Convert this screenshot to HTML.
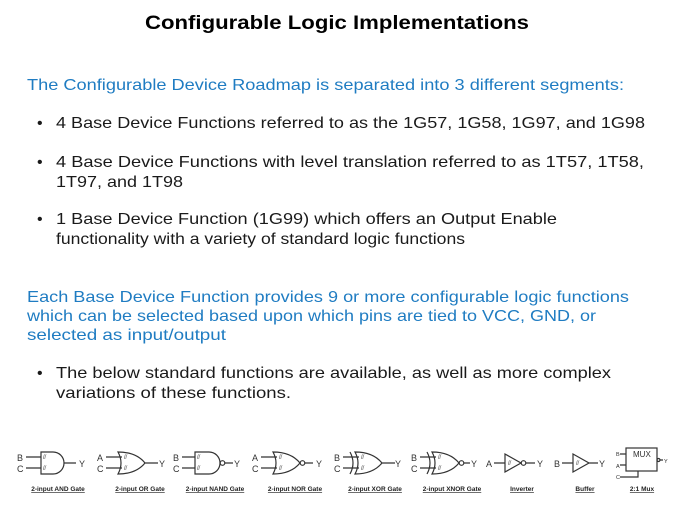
<!DOCTYPE html>
<html><head><meta charset="utf-8"><style>
html,body{margin:0;padding:0;background:#fff;}
svg{display:block;}
text{font-family:"Liberation Sans",sans-serif;}
.b{fill:#1a1a1a;font-size:16px;}
.bl{fill:#1f7cc2;font-size:16px;}
.g{stroke:#333;stroke-width:1.2;fill:none;}
.gl{font-size:9px;fill:#333;}
.cap{font-size:6.5px;fill:#222;text-decoration:underline;font-weight:bold;}
.s{font-size:6px;fill:#555;font-style:italic;}
</style></head><body>
<svg width="674" height="506" viewBox="0 0 674 506" xmlns="http://www.w3.org/2000/svg">
<text x="145" y="29" font-weight="bold" font-size="19" fill="#000" textLength="384" lengthAdjust="spacingAndGlyphs">Configurable Logic Implementations</text>
<text class="bl" x="27" y="90" textLength="597" lengthAdjust="spacingAndGlyphs">The Configurable Device Roadmap is separated into 3 different segments:</text>
<text class="b" x="37" y="128" font-size="12">•</text>
<text class="b" x="56" y="128" textLength="589" lengthAdjust="spacingAndGlyphs">4 Base Device Functions referred to as the 1G57, 1G58, 1G97, and 1G98</text>
<text class="b" x="37" y="167" font-size="12">•</text>
<text class="b" x="56" y="167" textLength="588" lengthAdjust="spacingAndGlyphs">4 Base Device Functions with level translation referred to as 1T57, 1T58,</text>
<text class="b" x="56" y="187" textLength="127" lengthAdjust="spacingAndGlyphs">1T97, and 1T98</text>
<text class="b" x="37" y="224" font-size="12">•</text>
<text class="b" x="56" y="224" textLength="501" lengthAdjust="spacingAndGlyphs">1 Base Device Function (1G99) which offers an Output Enable</text>
<text class="b" x="56" y="244" textLength="409" lengthAdjust="spacingAndGlyphs">functionality with a variety of standard logic functions</text>
<text class="bl" x="27" y="302" textLength="602" lengthAdjust="spacingAndGlyphs">Each Base Device Function provides 9 or more configurable logic functions</text>
<text class="bl" x="27" y="321" textLength="569" lengthAdjust="spacingAndGlyphs">which can be selected based upon which pins are tied to VCC, GND, or</text>
<text class="bl" x="27" y="340" textLength="199" lengthAdjust="spacingAndGlyphs">selected as input/output</text>
<text class="b" x="37" y="378" font-size="12">•</text>
<text class="b" x="56" y="378" textLength="555" lengthAdjust="spacingAndGlyphs">The below standard functions are available, as well as more complex</text>
<text class="b" x="56" y="398" textLength="235" lengthAdjust="spacingAndGlyphs">variations of these functions.</text>

<!-- AND -->
<text class="gl" x="17" y="461">B</text><text class="gl" x="17" y="472">C</text>
<path class="g" d="M26 457H41M26 468H41M41 452H53A11 11 0 0 1 53 474H41Z M64 463H76"/>
<text class="s" x="43" y="459">ſſ</text><text class="s" x="43" y="470">ſſ</text>
<text class="gl" x="79" y="467">Y</text>
<!-- OR -->
<text class="gl" x="97" y="461">A</text><text class="gl" x="97" y="472">C</text>
<path class="g" d="M106 457H122M106 468H122M118 452Q124 463 118 474Q136 474 145 463Q136 452 118 452Z M145 463H158"/>
<text class="s" x="124" y="459">ſſ</text><text class="s" x="124" y="470">ſſ</text>
<text class="gl" x="159" y="467">Y</text>
<!-- NAND -->
<text class="gl" x="173" y="461">B</text><text class="gl" x="173" y="472">C</text>
<path class="g" d="M182 457H195M182 468H195M195 452H209A11 11 0 0 1 209 474H195Z M225 463H233"/>
<text class="s" x="197" y="459">ſſ</text><text class="s" x="197" y="470">ſſ</text>
<circle class="g" cx="222.5" cy="463" r="2.3"/>
<text class="gl" x="234" y="467">Y</text>
<!-- NOR -->
<text class="gl" x="252" y="461">A</text><text class="gl" x="252" y="472">C</text>
<path class="g" d="M261 457H277M261 468H277M273 452Q279 463 273 474Q291 474 300 463Q291 452 273 452Z M305 463H313"/>
<text class="s" x="279" y="459">ſſ</text><text class="s" x="279" y="470">ſſ</text>
<circle class="g" cx="302.5" cy="463" r="2.3"/>
<text class="gl" x="316" y="467">Y</text>
<!-- XOR -->
<text class="gl" x="334" y="461">B</text><text class="gl" x="334" y="472">C</text>
<path class="g" d="M343 457H359M343 468H359M355 452Q361 463 355 474Q373 474 382 463Q373 452 355 452Z M350 452Q356 463 350 474 M382 463H395"/>
<text class="s" x="361" y="459">ſſ</text><text class="s" x="361" y="470">ſſ</text>
<text class="gl" x="395" y="467">Y</text>
<!-- XNOR -->
<text class="gl" x="411" y="461">B</text><text class="gl" x="411" y="472">C</text>
<path class="g" d="M420 457H436M420 468H436M432 452Q438 463 432 474Q450 474 459 463Q450 452 432 452Z M427 452Q433 463 427 474 M464 463H470"/>
<text class="s" x="438" y="459">ſſ</text><text class="s" x="438" y="470">ſſ</text>
<circle class="g" cx="461.5" cy="463" r="2.3"/>
<text class="gl" x="471" y="467">Y</text>
<!-- Inverter -->
<text class="gl" x="486" y="467">A</text>
<path class="g" d="M494 463H505M505 454L521 463L505 472Z M526 463H535"/>
<text class="s" x="508" y="465">ſſ</text>
<circle class="g" cx="523.5" cy="463" r="2.3"/>
<text class="gl" x="537" y="467">Y</text>
<!-- Buffer -->
<text class="gl" x="554" y="467">B</text>
<path class="g" d="M562 463H573M573 454L589 463L573 472Z M589 463H598"/>
<text class="s" x="576" y="465">ſſ</text>
<text class="gl" x="599" y="467">Y</text>
<!-- MUX -->
<rect class="g" x="626" y="448" width="31" height="23"/>
<text x="633" y="457" font-size="8" fill="#333">MUX</text>
<text x="616" y="456" font-size="5.5" fill="#333">B</text>
<text x="616" y="468" font-size="5.5" fill="#333">A</text>
<text x="616" y="479" font-size="5.5" fill="#333">C</text>
<text x="664" y="463" font-size="5.5" fill="#333">Y</text>
<path class="g" stroke-width="0.8" d="M620 454H626M620 465H626M620 477H638V471M660 460H663"/>
<circle class="g" stroke-width="0.8" cx="658.5" cy="460" r="1.5"/>

<text class="cap" x="58" y="491" text-anchor="middle">2-input AND Gate</text>
<text class="cap" x="140" y="491" text-anchor="middle">2-input OR Gate</text>
<text class="cap" x="215" y="491" text-anchor="middle">2-input NAND Gate</text>
<text class="cap" x="295" y="491" text-anchor="middle">2-input NOR Gate</text>
<text class="cap" x="375" y="491" text-anchor="middle">2-input XOR Gate</text>
<text class="cap" x="452" y="491" text-anchor="middle">2-input XNOR Gate</text>
<text class="cap" x="522" y="491" text-anchor="middle">Inverter</text>
<text class="cap" x="585" y="491" text-anchor="middle">Buffer</text>
<text class="cap" x="642" y="491" text-anchor="middle">2:1 Mux</text>
</svg>
</body></html>
